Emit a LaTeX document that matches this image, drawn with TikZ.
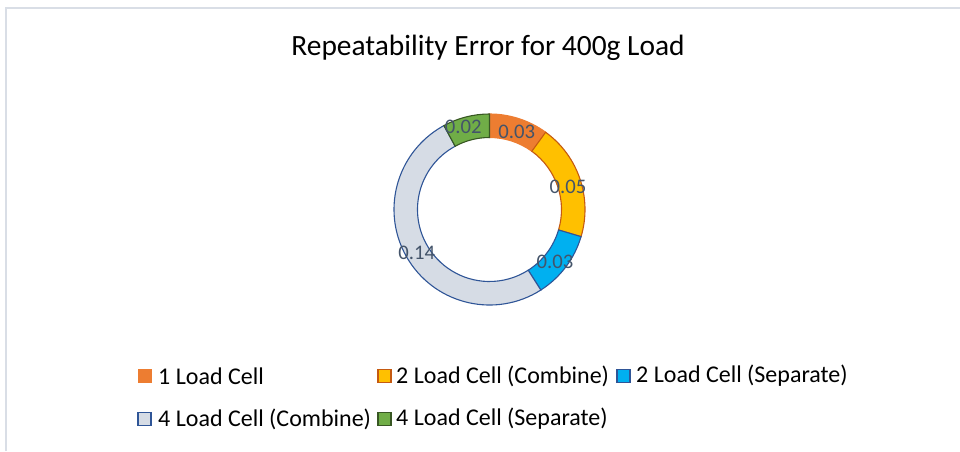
\documentclass[tikz,border=0pt]{standalone}
\usepackage{fontspec}
\setmainfont{Carlito}
\usepackage{xcolor}
\usetikzlibrary{calc}
\usetikzlibrary{positioning}
\definecolor{custom-orange}{RGB}{237, 125, 49}
\definecolor{custom-yellow}{RGB}{255, 192, 0}
\definecolor{custom-rust}{RGB}{197, 90, 17}
\definecolor{custom-blue}{RGB}{0, 176, 240}
\definecolor{custom-navy}{RGB}{47, 85, 151}
\definecolor{custom-grey}{RGB}{214, 220, 229}
\definecolor{custom-green}{RGB}{112, 173, 71}
\definecolor{custom-darkgreen}{RGB}{56, 87, 35}
\definecolor{custom-label}{RGB}{68, 84, 106}
\definecolor{custom-frame}{RGB}{217, 222, 230}

\tikzset{
  ringlabel/.style={text=custom-label, inner sep=0pt, font=\fontsize{20.7}{24}\selectfont},
  legendtext/.style={anchor=west, inner sep=0pt, font=\fontsize{24}{28}\selectfont}
}

% one piece of the ring: fill, border, start angle, end angle
\newcommand{\ringpart}[4]{%
  \filldraw[fill=#1, draw=#2, line width=1.1pt, shift={(489.5,241.5)}]
    (#3:95.5) arc[start angle=#3, end angle=#4, radius=95.5]
    -- (#4:72) arc[start angle=#4, end angle=#3, radius=72] -- cycle;}

\begin{document}
\begin{tikzpicture}[x=1pt, y=1pt]
\useasboundingbox (0,0) rectangle (960,451);
\draw[custom-frame, line width=1.5pt] (6,0) -- (6,443) -- (960,443);

\node[font=\fontsize{29.4}{34}\selectfont] (title) at (488,403) {Repeatability Error for 400g Load};

\ringpart{custom-orange}{custom-orange}{90}{54}
\ringpart{custom-yellow}{custom-rust}{54}{-16.5}
\ringpart{custom-blue}{custom-navy}{-16.5}{-57.5}
\ringpart{custom-grey}{custom-navy}{-57.5}{-241.5}
\ringpart{custom-green}{custom-darkgreen}{-241.5}{-270}

\node[ringlabel] (lone) at (516.7,319.3) {0.03};
\node[ringlabel] (ltwoc) at (568,264) {0.05};
\node[ringlabel] (ltwos) at (555,189.3) {0.03};
\node[ringlabel] (lfourc) at (416.7,197.7) {0.14};
\node[ringlabel] (lfours) at (463.3,324.3) {0.02};

\filldraw[fill=custom-orange, draw=custom-orange] (138,68.5) rectangle (151,81.5);
\node[legendtext] (keyone) at (158,75) {1 Load Cell};
\filldraw[fill=custom-yellow, draw=custom-rust, line width=1.2pt] (378,68.5) rectangle (391,81.5);
\node[legendtext] (keytwoc) at (396,75) {2 Load Cell (Combine)};
\filldraw[fill=custom-blue, draw=custom-navy, line width=1.2pt] (617,68.5) rectangle (630,81.5);
\node[legendtext] (keytwos) at (636,75) {2 Load Cell (Separate)};

\filldraw[fill=custom-grey, draw=custom-navy, line width=1.2pt] (138,25.5) rectangle (151,38.5);
\node[legendtext] (keyfourc) at (158,32) {4 Load Cell (Combine)};
\filldraw[fill=custom-green, draw=custom-darkgreen, line width=1.2pt] (378,25.5) rectangle (391,38.5);
\node[legendtext] (keyfours) at (396,32) {4 Load Cell (Separate)};
\end{tikzpicture}
\end{document}
